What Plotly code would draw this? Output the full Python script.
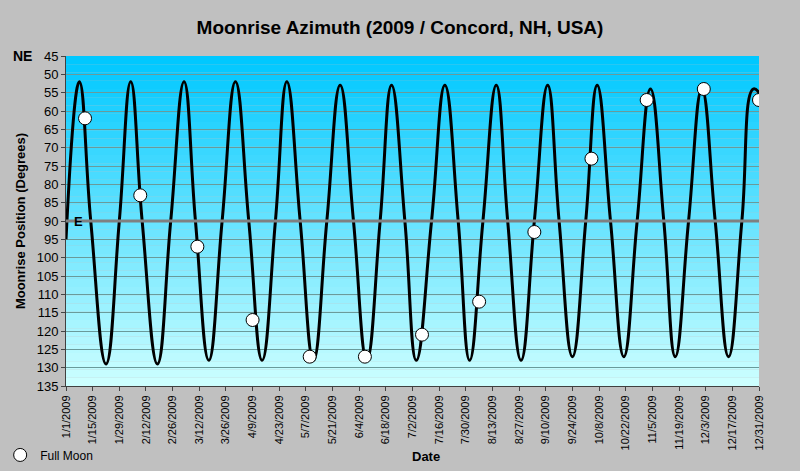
import plotly.graph_objects as go

curve_dates = ["2009-01-01","2009-01-08","2009-01-14","2009-01-22","2009-01-29","2009-02-04","2009-02-10","2009-02-18","2009-02-25",
 "2009-03-04","2009-03-10","2009-03-17","2009-03-24","2009-03-31","2009-04-07","2009-04-14","2009-04-21","2009-04-27",
 "2009-05-04","2009-05-11","2009-05-18","2009-05-25","2009-06-01","2009-06-08","2009-06-15","2009-06-21","2009-06-28",
 "2009-07-04","2009-07-12","2009-07-19","2009-07-26","2009-08-01","2009-08-08","2009-08-15","2009-08-21","2009-08-28",
 "2009-09-04","2009-09-11","2009-09-17","2009-09-24","2009-10-01","2009-10-07","2009-10-14","2009-10-21","2009-10-28",
 "2009-11-04","2009-11-11","2009-11-17","2009-11-24","2009-12-01","2009-12-08","2009-12-15","2009-12-22","2009-12-28","2009-12-31"]
curve_values = [95,52,90,129,90,52,90,129,90,
 52,90,128,90,52,90,128,90,52,
 90,128,90,53,90,128,90,53,90,
 128,90,53,90,128,90,53,90,128,
 90,53,90,127,90,53,90,127,90,
 54,90,127,90,54,90,127,90,54,55]

full_moon_dates = ["2009-01-11","2009-02-09","2009-03-11","2009-04-09","2009-05-09","2009-06-07","2009-07-07",
 "2009-08-06","2009-09-04","2009-10-04","2009-11-02","2009-12-02","2009-12-31"]
full_moon_values = [62,83,97,117,127,127,121,112,93,73,57,54,57]

tick_labels = ["1/1/2009","1/15/2009","1/29/2009","2/12/2009","2/26/2009","3/12/2009","3/26/2009","4/9/2009","4/23/2009",
 "5/7/2009","5/21/2009","6/4/2009","6/18/2009","7/2/2009","7/16/2009","7/30/2009","8/13/2009","8/27/2009","9/10/2009",
 "9/24/2009","10/8/2009","10/22/2009","11/5/2009","11/19/2009","12/3/2009","12/17/2009","12/31/2009"]
tick_vals = ["%s-%02d-%02d" % (t.split("/")[2], int(t.split("/")[0]), int(t.split("/")[1])) for t in tick_labels]

fig = go.Figure()
n = 40
shapes = []
for i in range(n):
    f = i / (n - 1)
    r = int(0 + 204 * f); g = int(200 + 55 * f); b = 255
    shapes.append(dict(type="rect", xref="paper", yref="paper", x0=0, x1=1,
                       y0=1 - (i + 1) / n, y1=1 - i / n, fillcolor=f"rgb({r},{g},{b})",
                       line=dict(width=0), layer="below"))
shapes.append(dict(type="line", xref="paper", yref="y", x0=0, x1=1, y0=90, y1=90,
                   line=dict(color="#808080", width=3)))
fig.add_trace(go.Scatter(x=curve_dates, y=curve_values, mode="lines", line=dict(color="black", width=3, shape="spline", smoothing=1.3),
                         showlegend=False, hoverinfo="skip"))
fig.add_trace(go.Scatter(x=full_moon_dates, y=full_moon_values, mode="markers", name="Full Moon",
                         marker=dict(color="white", size=13, line=dict(color="black", width=1))))
fig.update_layout(
    width=800, height=471, paper_bgcolor="#C0C0C0", plot_bgcolor="rgba(0,0,0,0)",
    margin=dict(l=66, r=41, t=56, b=85, autoexpand=False), shapes=shapes,
    title=dict(text="<b>Moonrise Azimuth (2009 / Concord, NH, USA)</b>", x=0.5, y=0.955, xanchor="center",
               font=dict(family="Arial", size=19, color="black")),
    font=dict(family="Arial", color="black", size=12),
    xaxis=dict(range=["2009-01-01", "2009-12-31"], tickvals=tick_vals, ticktext=tick_labels, tickangle=-90,
               tickfont=dict(size=11), showgrid=False, showline=True, linecolor="#404040", ticks="outside",
               ticklen=4, automargin=False),
    yaxis=dict(range=[135, 45], dtick=5, tick0=45, tickfont=dict(size=13), gridcolor="#6a9a9a", gridwidth=1,
               showline=True, linecolor="#404040", ticks="outside", ticklen=4, zeroline=False, automargin=False,
               title=dict(text="<b>Moonrise Position (Degrees)</b>", font=dict(size=13), standoff=8)),
    legend=dict(x=-0.095, y=-0.165, xanchor="left", yanchor="top", bgcolor="rgba(0,0,0,0)", font=dict(size=12),
                itemwidth=30),
    annotations=[
        dict(text="<b>NE</b>", xref="paper", yref="y", x=-0.046, y=45, showarrow=False, font=dict(size=14), xanchor="right"),
        dict(text="<b>SE</b>", xref="paper", yref="y", x=-0.046, y=137.5, showarrow=False, font=dict(size=14), xanchor="right", yanchor="top"),
        dict(text="<b>E</b>", xref="paper", yref="y", x=0.008, y=90, showarrow=False, font=dict(size=13), xanchor="left"),
        dict(text="<b>Date</b>", xref="paper", yref="paper", x=0.52, y=-0.185, showarrow=False, font=dict(size=13), yanchor="top"),
    ],
)
fig.write_html("out.html", config={"displayModeBar": False})
with open("out.html") as fh:
    html = fh.read()
html = html.replace("<body>", '<body style="margin:0;padding:0;overflow:hidden">', 1)
with open("out.html", "w") as fh:
    fh.write(html)
